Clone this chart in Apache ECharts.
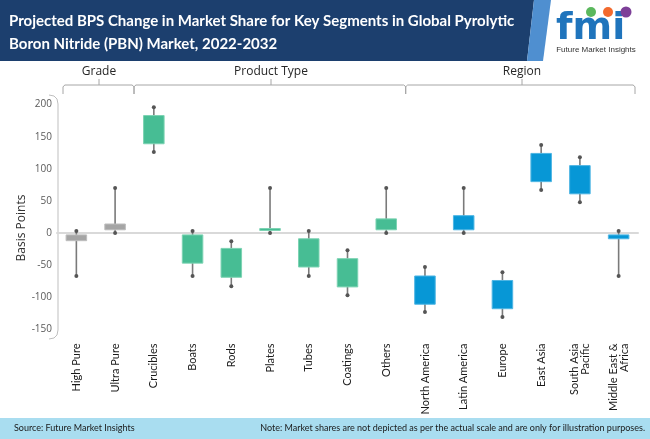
<!DOCTYPE html>
<html>
  <head>
    <meta charset="utf-8" />
    <title>PBN Market BPS Change</title>
    <script src="https://cdn.jsdelivr.net/npm/echarts@6/dist/echarts.min.js"></script>
    <style>
      html, body { margin: 0; padding: 0; background: #fff; }
    </style>
  </head>
  <body>
    <div id="main" style="width: 650px;height:439px;"></div>
    <script type="text/javascript">
// segments along the x axis
var categories = ['High Pure', 'Ultra Pure', 'Crucibles', 'Boats', 'Rods', 'Plates', 'Tubes',
  'Coatings', 'Others', 'North America', 'Latin America', 'Europe', 'East Asia',
  'South Asia\nPacific', 'Middle East &\nAfrica'];
// which bracket each segment belongs to: 0 grade, 1 product type, 2 region
var groups = [0, 0, 1, 1, 1, 1, 1, 1, 1, 2, 2, 2, 2, 2, 2];
// whisker ends and box ends (basis points)
var lows  = [-67,   0, 126, -67, -83,  0, -67,  -97,  0, -123,  0, -131,  67,  48, -67];
var boxLo = [-12,   5, 139, -47, -69,  5, -53,  -84,  5, -111,  5, -118,  80,  61,  -9];
var boxHi = [ -3,  14, 183,  -3, -24,  7,  -9,  -40, 22,  -67, 27,  -74, 124, 105,  -3];
var highs = [  3,  70, 196,   3, -13, 70,   3,  -27, 70,  -53, 70,  -61, 137, 118,   3];
var yTicks = [-150, -100, -50, 0, 50, 100, 150, 200];

var groupColors = ['#a5a5a5', '#47bd94', '#0797d6'];
var groupBorders = ['#bdbdbd', '#7dd3b3', '#4fb6e4'];

var data = categories.map(function (c, i) {
  return [i, lows[i], boxLo[i], boxHi[i], highs[i], groups[i]];
});

// little bracket with rounded-ish corners
function bracket(x1, x2, y, drop) {
  return [[x1, y + drop], [x1, y + 2], [x1 + 0.8, y + 0.8], [x1 + 2, y],
    [x2 - 2, y], [x2 - 0.8, y + 0.8], [x2, y + 2], [x2, y + drop]];
}
var lineStyle = { stroke: '#a6a6a6', lineWidth: 1, fill: null };
var labelFont = '12px "Open Sans"';

var myChart = echarts.init(document.getElementById('main'));

myChart.setOption({
  animation: false,
  grid: { left: 57, right: 12, top: 95, bottom: 98.5 },
  xAxis: {
    type: 'category',
    data: categories,
    axisLine: { lineStyle: { color: '#d9d9d9', width: 2 } },
    axisTick: { show: false },
    axisLabel: {
      rotate: 90,
      interval: 0,
      margin: 3,
      color: '#1a1a1a',
      fontSize: 11,
      fontFamily: 'Lato',
      lineHeight: 11
    }
  },
  yAxis: {
    type: 'value',
    min: -167.5,
    max: 215,
    axisLine: { show: false },
    axisTick: { show: false },
    splitLine: { show: false },
    axisLabel: {
      customValues: yTicks,
      margin: 5,
      color: '#595959',
      fontSize: 10,
      fontFamily: 'Open Sans'
    }
  },
  series: [{
    type: 'custom',
    data: data,
    encode: { x: 0, y: [1, 2, 3, 4] },
    renderItem: function (params, api) {
      var i = api.value(0);
      var g = api.value(5);
      var pLow = api.coord([i, api.value(1)]);
      var pQ1 = api.coord([i, api.value(2)]);
      var pQ3 = api.coord([i, api.value(3)]);
      var pHigh = api.coord([i, api.value(4)]);
      var w = api.size([1, 0])[0] * 0.53;
      var x = pLow[0];
      var boxTop = Math.min(pQ1[1], pQ3[1]);
      var boxH = Math.max(Math.abs(pQ1[1] - pQ3[1]), 2);
      return {
        type: 'group',
        children: [
          { type: 'line', shape: { x1: x, y1: pLow[1], x2: x, y2: pHigh[1] },
            style: { stroke: '#7a7a7a', lineWidth: 1.6 } },
          { type: 'circle', shape: { cx: x, cy: pLow[1], r: 2 }, style: { fill: '#555' } },
          { type: 'circle', shape: { cx: x, cy: pHigh[1], r: 2 }, style: { fill: '#555' } },
          { type: 'rect', shape: { x: x - w / 2, y: boxTop, width: w, height: boxH },
            style: { fill: groupColors[g], stroke: groupBorders[g], lineWidth: 1 } }
        ]
      };
    }
  }],
  graphic: [
    // header band
    { type: 'polygon', shape: { points: [[0, 0], [534, 0], [527, 61], [0, 61]] },
      style: { fill: '#1c3f6e' } },
    { type: 'polygon', shape: { points: [[534, 0], [551, 0], [543, 61], [527, 61]] },
      style: { fill: '#4f8fd0' } },
    { type: 'text', x: 9, y: 21,
      style: { text: 'Projected BPS Change in Market Share for Key Segments in Global Pyrolytic',
        fill: '#fff', font: 'bold 15px Lato', textVerticalAlign: 'middle' } },
    { type: 'text', x: 9, y: 44,
      style: { text: 'Boron Nitride (PBN) Market, 2022-2032',
        fill: '#fff', font: 'bold 15px Lato', textVerticalAlign: 'middle' } },
    // logo
    { type: 'text', x: 556, y: 29,
      style: { text: 'fmi', fill: '#1f74bc', font: 'bold 38px "DejaVu Sans"', textVerticalAlign: 'middle' } },
    { type: 'circle', shape: { cx: 591, cy: 12, r: 5 }, style: { fill: '#5bb85d' } },
    { type: 'circle', shape: { cx: 608, cy: 12, r: 5 }, style: { fill: '#f26a2e' } },
    { type: 'circle', shape: { cx: 626, cy: 12, r: 5.5 }, style: { fill: '#7d3f98' } },
    { type: 'text', x: 596, y: 50,
      style: { text: 'Future Market Insights', fill: '#333', font: '8px "Liberation Sans"', textAlign: 'center', textVerticalAlign: 'middle' } },
    // segment brackets
    { type: 'polyline', shape: { points: bracket(63, 134, 85, 9) }, style: lineStyle },
    { type: 'polyline', shape: { points: bracket(134, 405.7, 85, 9) }, style: lineStyle },
    { type: 'polyline', shape: { points: bracket(405.7, 635, 85, 9) }, style: lineStyle },
    { type: 'line', shape: { x1: 99, y1: 79, x2: 99, y2: 85 }, style: lineStyle },
    { type: 'line', shape: { x1: 271, y1: 79, x2: 271, y2: 85 }, style: lineStyle },
    { type: 'line', shape: { x1: 522, y1: 79, x2: 522, y2: 85 }, style: lineStyle },
    { type: 'text', x: 99, y: 72, style: { text: 'Grade', fill: '#262626', font: labelFont, textAlign: 'center', textVerticalAlign: 'middle' } },
    { type: 'text', x: 271, y: 72, style: { text: 'Product Type', fill: '#262626', font: labelFont, textAlign: 'center', textVerticalAlign: 'middle' } },
    { type: 'text', x: 522, y: 72, style: { text: 'Region', fill: '#262626', font: labelFont, textAlign: 'center', textVerticalAlign: 'middle' } },
    // y axis bracket
    { type: 'polyline', shape: { points: [[49, 95], [54, 96], [57, 99], [58, 104], [58, 330], [57, 335], [54, 338], [49, 339]] },
      style: { stroke: '#bfbfbf', lineWidth: 1, fill: null } },
    { type: 'text', x: 22, y: 228, rotation: Math.PI / 2,
      style: { text: 'Basis Points', fill: '#333', font: labelFont, textAlign: 'center', textVerticalAlign: 'middle' } },
    // footer
    { type: 'rect', shape: { x: 0, y: 418, width: 650, height: 21 }, style: { fill: '#a9ddf0' } },
    { type: 'text', x: 14, y: 428.5,
      style: { text: 'Source: Future Market Insights', fill: '#1a1a1a', font: '9px Lato', textVerticalAlign: 'middle' } },
    { type: 'text', x: 645, y: 428.5,
      style: { text: 'Note: Market shares are not depicted as per the actual scale and are only for illustration purposes.', fill: '#1a1a1a', font: '9px Lato', textAlign: 'right', textVerticalAlign: 'middle' } }
  ]
});
    </script>
  </body>
</html>
